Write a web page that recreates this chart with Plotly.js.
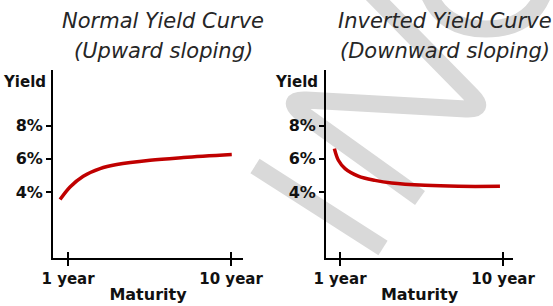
<!DOCTYPE html>
<html>
<head>
<meta charset="utf-8">
<script src="https://cdn.plot.ly/plotly-3.0.1.min.js"></script>
<style>html,body{margin:0;padding:0;background:#fff;}#chart{width:553px;height:306px;}</style>
</head>
<body>
<div id="chart"></div>
<script>
// ---- data ----
const maturityTicks = [1, 10];
const maturityLabels = ['1 year', '10 year'];
const yieldTicks = [4, 6, 8];
const yieldLabels = ['4%', '6%', '8%'];
const normalX = [0.56, 1.11, 1.84, 2.77, 3.69, 5.53, 7.37, 10.04];
const normalY = [3.54, 4.30, 4.95, 5.41, 5.65, 5.91, 6.07, 6.25];
const invertedX = [0.69, 0.91, 1.28, 2.01, 2.93, 3.85, 5.69, 7.53, 9.83];
const invertedY = [6.61, 5.91, 5.41, 4.96, 4.70, 4.54, 4.40, 4.34, 4.34];
const titleLines = [['Normal Yield Curve', '(Upward sloping)'], ['Inverted Yield Curve', '(Downward sloping)']];
const yLabel = 'Yield';
const xLabel = 'Maturity';

// ---- styling ----
const W = 553, H = 306;
const RED = '#c00000';
const FONT = 'DejaVu Sans';
const px = x => x / W;
const py = y => 1 - y / H;
const P = (x, y) => px(x).toFixed(4) + ',' + py(y).toFixed(4);

const lineTrace = (x, y, xa, ya) => ({
  x: x, y: y, xaxis: xa, yaxis: ya, type: 'scatter', mode: 'lines',
  line: {color: RED, width: 3.5, shape: 'spline', smoothing: 1},
  hoverinfo: 'skip', showlegend: false
});
const emptyTrace = (xa, ya) => ({x: [], y: [], xaxis: xa, yaxis: ya, type: 'scatter', mode: 'lines', showlegend: false});

const data = [
  lineTrace(normalX, normalY, 'x', 'y'),
  lineTrace(invertedX, invertedY, 'x2', 'y2'),
  emptyTrace('x3', 'y'),
  emptyTrace('x4', 'y2')
];

const tickFont = {family: FONT, size: 16, weight: 'bold', color: '#111'};
const yDomain = [py(258), py(70)];
const yRange = [0.02, 11.35];

function xAxis(domain, range, anchor) {
  return {
    domain: domain, range: range, anchor: anchor,
    showline: true, linewidth: 2, linecolor: '#000',
    ticks: 'outside', ticklen: 6, tickwidth: 2, tickcolor: '#000',
    tickmode: 'array', tickvals: maturityTicks, ticktext: maturityLabels,
    tickfont: {family: FONT, size: 15, weight: 'bold', color: '#111'},
    showgrid: false, zeroline: false, fixedrange: true,
    title: {text: xLabel, font: {family: FONT, size: 16, weight: 'bold', color: '#111'}, standoff: 2}
  };
}
function xOverlay(over, range, anchor) {
  return {
    overlaying: over, anchor: anchor, range: range, side: 'bottom',
    showline: false, ticks: 'inside', ticklen: 6, tickwidth: 2, tickcolor: '#000',
    tickmode: 'array', tickvals: maturityTicks, showticklabels: false,
    showgrid: false, zeroline: false, fixedrange: true
  };
}
function yAxis(anchor) {
  return {
    domain: yDomain, range: yRange, anchor: anchor,
    showline: true, linewidth: 2, linecolor: '#000',
    ticks: 'outside', ticklen: 5, tickwidth: 2, tickcolor: '#000',
    tickmode: 'array', tickvals: yieldTicks, ticktext: yieldLabels,
    tickfont: tickFont, showgrid: false, zeroline: false, fixedrange: true
  };
}

const leftRange = [0.17, 10.66];
const rightRange = [0.227, 10.55];

const annotations = [];
const titleCenters = [163, 445];
titleLines.forEach((lines, i) => {
  lines.forEach((t, j) => {
    annotations.push({
      text: t, xref: 'paper', yref: 'paper', x: px(titleCenters[i]), y: py(j === 0 ? 21 : 51),
      xanchor: 'center', yanchor: 'middle', showarrow: false,
      font: {family: FONT, size: 21, style: 'italic', color: '#262626'}
    });
  });
});
[48, 320].forEach(xr => {
  annotations.push({
    text: yLabel, xref: 'paper', yref: 'paper', x: px(xr), y: py(82),
    xanchor: 'right', yanchor: 'middle', showarrow: false,
    font: {family: FONT, size: 15, weight: 'bold', color: '#111'}
  });
});

// watermark (decorative)
const WM = '#d9d9d9';
const wmShape = path => ({type: 'path', xref: 'paper', yref: 'paper', layer: 'below', path: path, line: {color: WM, width: 17}});
const shapes = [
  wmShape('M' + P(368, -10) + 'L' + P(472, 96) + 'Q' + P(486, 110) + ' ' + P(466, 109) + 'L' + P(306, 100) + 'Q' + P(286, 99) + ' ' + P(300, 112) + 'L' + P(420, 198)),
  wmShape('M' + P(255, 166) + 'L' + P(383, 248)),
  wmShape('M' + P(428, -8) + 'Q' + P(442, 29) + ' ' + P(486, 29) + 'Q' + P(530, 29) + ' ' + P(544, -8))
];

const layout = {
  width: W, height: H,
  margin: {l: 0, r: 0, t: 0, b: 0, pad: 0},
  paper_bgcolor: '#fff', plot_bgcolor: 'rgba(0,0,0,0)',
  showlegend: false,
  xaxis: xAxis([px(53), px(243)], leftRange, 'y'),
  yaxis: yAxis('x'),
  xaxis2: xAxis([px(326), px(513)], rightRange, 'y2'),
  yaxis2: yAxis('x2'),
  xaxis3: xOverlay('x', leftRange, 'y'),
  xaxis4: xOverlay('x2', rightRange, 'y2'),
  annotations: annotations,
  shapes: shapes
};

Plotly.newPlot('chart', data, layout, {staticPlot: true, displayModeBar: false});
</script>
</body>
</html>
